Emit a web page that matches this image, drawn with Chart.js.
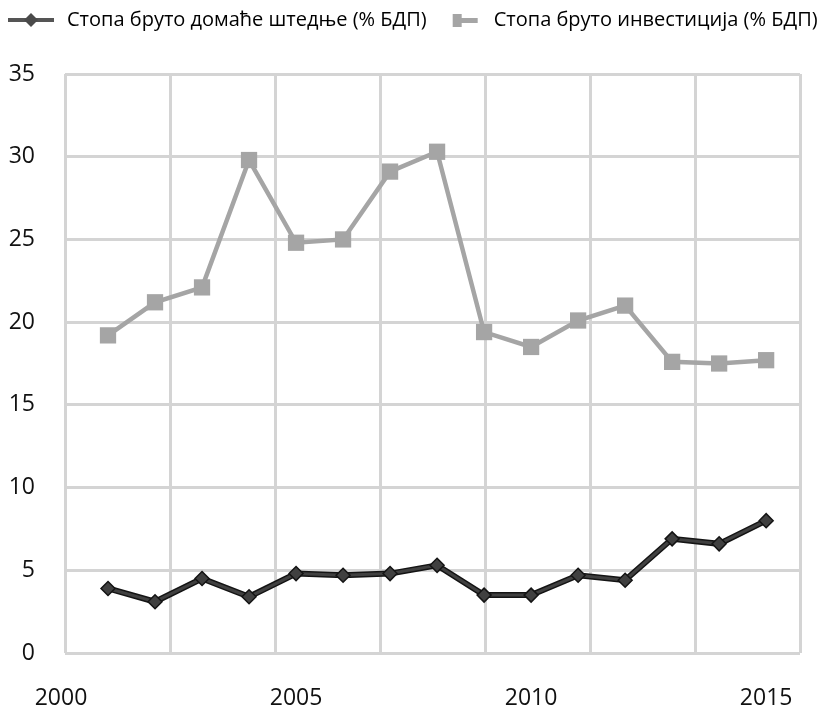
<!DOCTYPE html>
<html>
<head>
<meta charset="utf-8">
<title>Стопа бруто домаће штедње и инвестиција</title>
<script src="https://cdn.jsdelivr.net/npm/chart.js@4/dist/chart.umd.min.js"></script>
<style>
  html, body { margin: 0; padding: 0; background: #ffffff; }
  #wrap { width: 822px; height: 711px; }
</style>
</head>
<body>
<div id="wrap"><canvas id="chart" width="822" height="711"></canvas></div>
<script>
// Series data, % of GDP
const years = [2001, 2002, 2003, 2004, 2005, 2006, 2007, 2008, 2009, 2010, 2011, 2012, 2013, 2014, 2015];
const savingsRate = [3.9, 3.1, 4.5, 3.4, 4.8, 4.7, 4.8, 5.3, 3.5, 3.5, 4.7, 4.4, 6.9, 6.6, 8.0];
const investmentRate = [19.2, 21.2, 22.1, 29.8, 24.8, 25.0, 29.1, 30.3, 19.4, 18.5, 20.1, 21.0, 17.6, 17.5, 17.7];
const seriesNames = ['Стопа бруто домаће штедње (% БДП)', 'Стопа бруто инвестиција (% БДП)'];
const xTickValues = [2000, 2005, 2010, 2015];
const yTickValues = [0, 5, 10, 15, 20, 25, 30, 35];
const gridSteps = [0, 1, 2, 3, 4, 5, 6, 7];

const SAVINGS_COLOR = '#404040';
const OUTLINE_COLOR = '#141414';
const INVEST_COLOR = '#a5a5a5';
const GRID_COLOR = '#d4d4d4';
const FONT = "'Open Sans', 'Noto Sans', sans-serif";
const ICON_W = 55;

const toPoints = (vals) => years.map((x, i) => ({ x, y: vals[i] }));

// Legend swatches: line with marker
function makeSavingsIcon() {
  const c = document.createElement('canvas');
  c.width = ICON_W; c.height = 20;
  const g = c.getContext('2d');
  g.fillStyle = '#555555';
  g.fillRect(6, 8, 46, 4);
  g.beginPath();
  g.moveTo(29, 3); g.lineTo(36, 10); g.lineTo(29, 17); g.lineTo(22, 10); g.closePath();
  g.fillStyle = '#4a4a4a';
  g.fill();
  return c;
}
function makeInvestIcon() {
  const c = document.createElement('canvas');
  c.width = ICON_W; c.height = 20;
  const g = c.getContext('2d');
  g.fillStyle = INVEST_COLOR;
  g.fillRect(24, 4, 9, 13);
  g.fillRect(33, 8, 16, 5);
  return c;
}
const legendIcons = [makeSavingsIcon(), null, makeInvestIcon()];

const tickFont = { family: FONT, size: 23 };

new Chart(document.getElementById('chart'), {
  type: 'line',
  data: {
    datasets: [
      {
        label: seriesNames[0],
        data: toPoints(savingsRate),
        borderColor: SAVINGS_COLOR,
        backgroundColor: SAVINGS_COLOR,
        borderWidth: 3,
        pointStyle: 'rectRot',
        pointRadius: 7,
        pointBackgroundColor: SAVINGS_COLOR,
        pointBorderColor: OUTLINE_COLOR,
        pointBorderWidth: 1.5,
        tension: 0,
        order: 0
      },
      {
        // dark edge under the savings line
        label: 'outline',
        data: toPoints(savingsRate),
        borderColor: OUTLINE_COLOR,
        borderWidth: 6,
        pointRadius: 0,
        tension: 0,
        order: 1
      },
      {
        label: seriesNames[1],
        data: toPoints(investmentRate),
        borderColor: INVEST_COLOR,
        backgroundColor: INVEST_COLOR,
        borderWidth: 4.5,
        pointStyle: 'rect',
        pointRadius: 11.5,
        pointBackgroundColor: INVEST_COLOR,
        pointBorderWidth: 0,
        tension: 0,
        order: 2
      }
    ]
  },
  options: {
    responsive: false,
    animation: false,
    devicePixelRatio: 1,
    events: [],
    layout: { padding: { left: 0, right: 0, top: 8, bottom: 0 } },
    plugins: {
      tooltip: { enabled: false },
      legend: {
        position: 'top',
        align: 'start',
        labels: {
          usePointStyle: true,
          pointStyleWidth: ICON_W,
          boxHeight: 20,
          padding: 2,
          color: '#111111',
          font: { family: FONT, size: 20 },
          filter: (item) => item.datasetIndex !== 1,
          generateLabels: (chart) => chart.data.datasets.map((ds, i) => ({
            text: ds.label,
            datasetIndex: i,
            pointStyle: legendIcons[i],
            fillStyle: ds.borderColor,
            strokeStyle: ds.borderColor,
            lineWidth: 0,
            hidden: false
          }))
        }
      }
    },
    scales: {
      x: {
        type: 'linear',
        position: 'bottom',
        min: 2000.085,
        max: 2015.72,
        afterBuildTicks: (s) => { s.ticks = xTickValues.map(v => ({ value: v })); },
        afterFit: (s) => { s.height = 58; },
        ticks: {
          font: tickFont,
          color: '#111111',
          padding: 24,
          maxRotation: 0,
          autoSkip: false,
          callback: (v) => String(v)
        },
        grid: { display: false },
        border: { display: false }
      },
      xGrid: {
        type: 'linear',
        position: 'top',
        min: 0,
        max: 7,
        afterBuildTicks: (s) => { s.ticks = gridSteps.map(v => ({ value: v })); },
        afterFit: (s) => { s.height = 34; },
        ticks: { display: false },
        grid: { color: GRID_COLOR, lineWidth: 3, drawTicks: false },
        border: { display: false }
      },
      y: {
        min: 0,
        max: 35,
        afterBuildTicks: (s) => { s.ticks = yTickValues.map(v => ({ value: v })); },
        afterFit: (s) => { s.width = 65; },
        ticks: {
          font: tickFont,
          color: '#111111',
          padding: 30
        },
        grid: { color: GRID_COLOR, lineWidth: 3, drawTicks: false },
        border: { display: false }
      },
      yRight: {
        position: 'right',
        min: 0,
        max: 35,
        afterFit: (s) => { s.width = 22; },
        ticks: { display: false },
        grid: { display: false, drawTicks: false },
        border: { display: false }
      }
    }
  }
});
</script>
</body>
</html>
